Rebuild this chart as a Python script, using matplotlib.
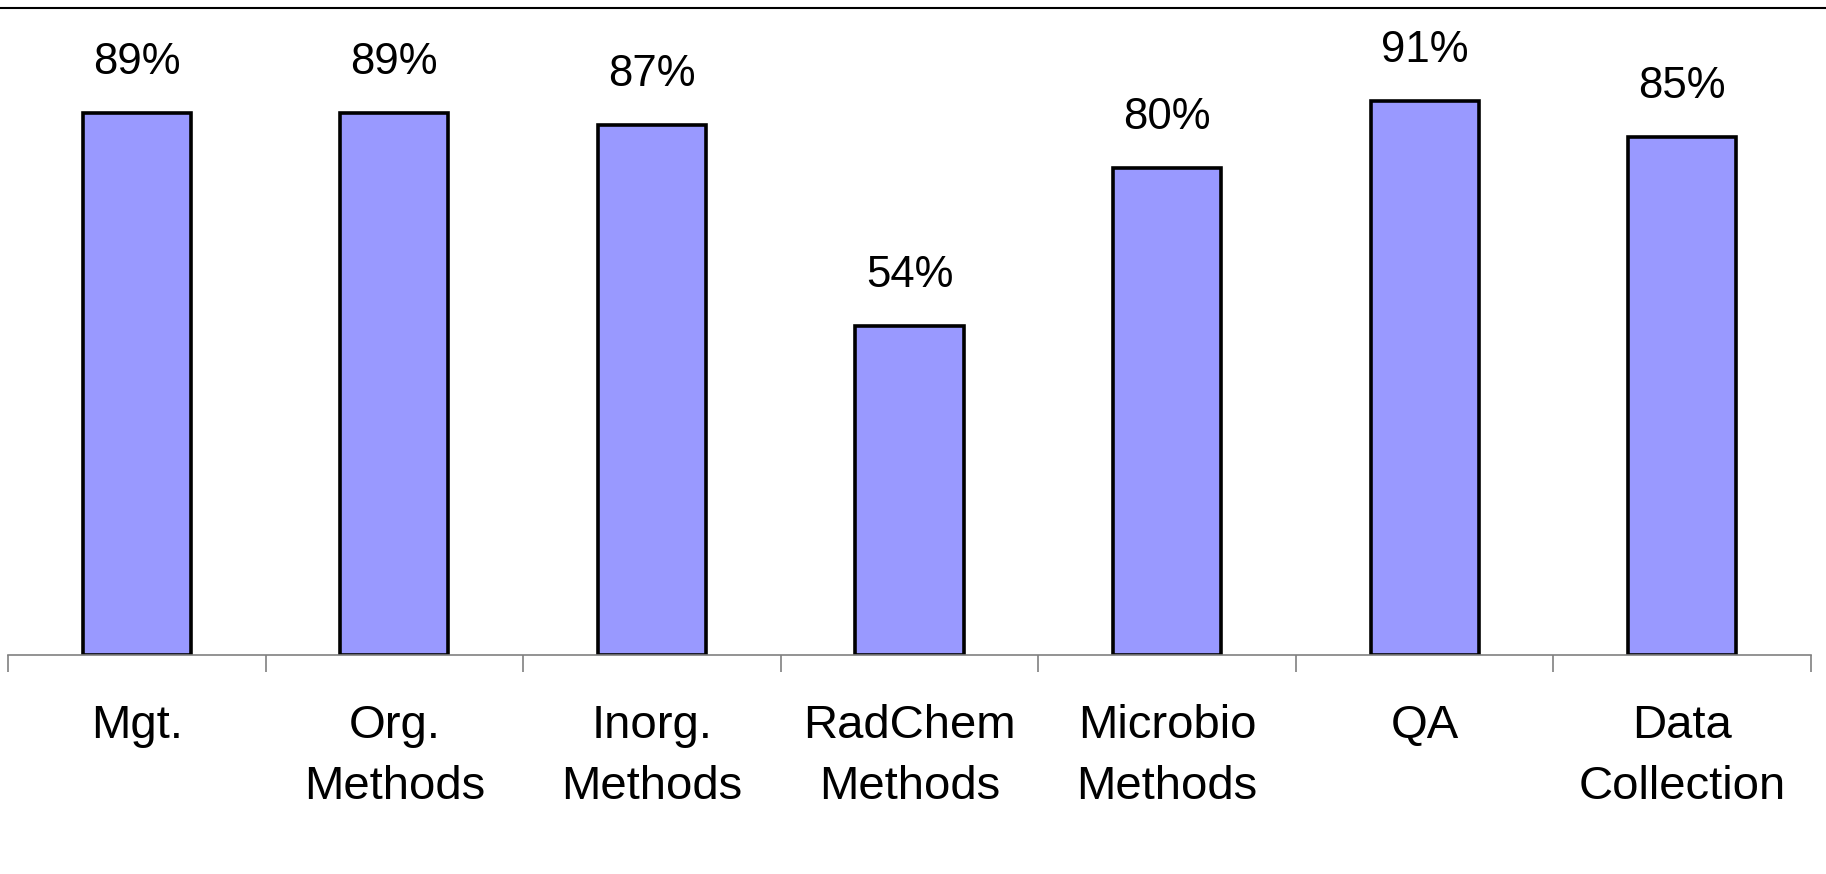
import matplotlib.pyplot as plt
from matplotlib.lines import Line2D
import numpy as np

plt.rcParams['font.family'] = ['Liberation Sans', 'DejaVu Sans']

categories = ["Mgt.", "Org.\nMethods", "Inorg.\nMethods", "RadChem\nMethods",
              "Microbio\nMethods", "QA", "Data\nCollection"]
values = [0.89, 0.89, 0.87, 0.54, 0.80, 0.91, 0.85]
value_labels = ["89%", "89%", "87%", "54%", "80%", "91%", "85%"]

W, H = 1826, 874
fig = plt.figure(figsize=(W / 100, H / 100), dpi=100)
ax = fig.add_axes([8 / W, (H - 655) / H, (1811 - 8) / W, (655 - 8) / H])

x = np.arange(len(categories))
bars = ax.bar(x, values, width=0.42, color="#9999FF", edgecolor="black", linewidth=2.6)

for xi, v, lab in zip(x, values, value_labels):
    ax.annotate(lab, (xi, v), xytext=(0, 28), textcoords="offset points",
                ha="center", va="baseline", fontsize=31.5)

ax.set_xlim(-0.5, len(categories) - 0.5)
ax.set_ylim(0, 1.062)

# category labels at centres, tick marks at boundaries
ax.set_xticks(x)
ax.set_xticklabels(categories, fontsize=34, linespacing=1.5)
ax.tick_params(axis="x", which="major", length=0, pad=35)
ax.set_xticks(np.arange(-0.5, len(categories)), minor=True)
ax.tick_params(axis="x", which="minor", length=12, width=1.2, color="#808080")

ax.set_yticks([])
for s in ["top", "left", "right"]:
    ax.spines[s].set_visible(False)
ax.spines["bottom"].set_color("#808080")
ax.spines["bottom"].set_linewidth(1.2)

# thin rule across the top of the figure
fig.add_artist(Line2D([0, 1], [(H - 8) / H, (H - 8) / H], color="black", linewidth=1.5,
                      transform=fig.transFigure))

fig.savefig("out.png", dpi=100)
